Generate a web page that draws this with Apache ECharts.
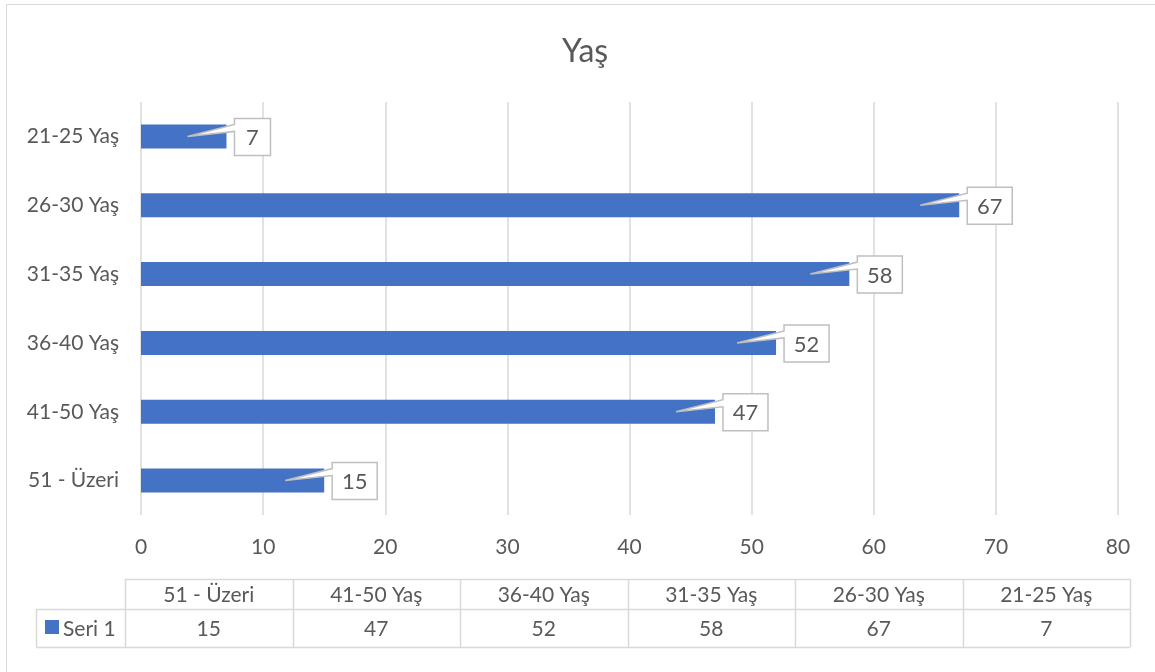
<!DOCTYPE html>
<html><head><meta charset="utf-8">
<script src="https://cdn.jsdelivr.net/npm/echarts@6/dist/echarts.min.js"></script>
<style>html,body{margin:0;padding:0;background:#fff}#c{width:1155px;height:672px}</style>
</head><body><div id="c"></div>
<script>
var titleText = 'Yaş';
var seriesName = 'Seri 1';
var categories = ['51 - Üzeri', '41-50 Yaş', '36-40 Yaş', '31-35 Yaş', '26-30 Yaş', '21-25 Yaş'];
var values = [15, 47, 52, 58, 67, 7];
var xTicks = [0, 10, 20, 30, 40, 50, 60, 70, 80];

var FONT = 'Lato';
var TXT = '#595959';
var BAR = '#4472C4';
var LINE = '#d9d9d9';
var FS = 21;

var chart = echarts.init(document.getElementById('c'));

var tbl = [];
var tLeft = 36, c0 = 125, colW = (1130 - 125) / categories.length;
var r0 = 579, r1 = 609, r2 = 647;
tbl.push({type:'rect', shape:{x:6.5,y:4.5,width:1200,height:720}, style:{fill:'none',stroke:LINE,lineWidth:1}, silent:true, z:0});
tbl.push({type:'line', shape:{x1:c0,y1:r0+0.5,x2:1130,y2:r0+0.5}, style:{stroke:LINE,lineWidth:1.5}});
tbl.push({type:'line', shape:{x1:tLeft,y1:r1+0.5,x2:1130,y2:r1+0.5}, style:{stroke:LINE,lineWidth:1.5}});
tbl.push({type:'line', shape:{x1:tLeft,y1:r2+0.5,x2:1130,y2:r2+0.5}, style:{stroke:LINE,lineWidth:1.5}});
tbl.push({type:'line', shape:{x1:tLeft+0.5,y1:r1,x2:tLeft+0.5,y2:r2}, style:{stroke:LINE,lineWidth:1.5}});
for (var i = 0; i <= categories.length; i++) {
  var x = Math.round(c0 + i * colW) + 0.5;
  tbl.push({type:'line', shape:{x1:x,y1:r0,x2:x,y2:r2}, style:{stroke:LINE,lineWidth:1.5}});
}
for (var i = 0; i < categories.length; i++) {
  var cx = c0 + (i + 0.5) * colW;
  tbl.push({type:'text', x:cx, y:(r0+r1)/2+1, style:{text:categories[i], font:FS+'px '+FONT, fill:TXT, align:'center', verticalAlign:'middle'}});
  tbl.push({type:'text', x:cx, y:(r1+r2)/2+1, style:{text:String(values[i]), font:FS+'px '+FONT, fill:TXT, align:'center', verticalAlign:'middle'}});
}
tbl.push({type:'rect', shape:{x:45,y:620,width:14,height:14}, style:{fill:BAR}});
tbl.push({type:'text', x:63, y:(r1+r2)/2+1, style:{text:seriesName, font:FS+'px '+FONT, fill:TXT, align:'left', verticalAlign:'middle'}});

chart.setOption({
  animation:false,
  backgroundColor:'#fff',
  title:{text:titleText, textStyle:{fontFamily:FONT, fontSize:32, fontWeight:'normal', color:TXT}, left:557, top:31},
  grid:{left:141, right:37, top:102, bottom:157, containLabel:false},
  xAxis:{type:'value', min:xTicks[0], max:xTicks[xTicks.length-1], interval:10,
    axisLine:{show:false}, axisTick:{show:false},
    splitLine:{lineStyle:{color:LINE, width:1.5}},
    axisLabel:{fontFamily:FONT, fontSize:FS, color:TXT, margin:22}},
  yAxis:{type:'category', data:categories,
    axisLine:{show:false}, axisTick:{show:false},
    axisLabel:{fontFamily:FONT, fontSize:FS, color:TXT, margin:22}},
  series:[
    {type:'bar', name:seriesName, data:values, barWidth:24, itemStyle:{color:BAR}, z:2},
    {type:'custom', name:seriesName+'-labels', data:values.map(function(v,i){return [v,i];}), z:5,
     encode:{x:0,y:1},
     renderItem:function(params, api){
       var v = api.value(0), idx = api.value(1);
       var p = api.coord([v, idx]);
       var txt = String(v);
       var w = txt.length > 1 ? 45 : 36, h = 37;
       var bl = p[0] + 8, bt = p[1] - 18, br = bl + w, bb = bt + h;
       var tip = [p[0] - 39, p[1]];
       return {type:'group', children:[
         {type:'polygon', shape:{points:[[bl,bt],[br,bt],[br,bb],[bl,bb],[bl,bt+13],tip,[bl,bt+6]]},
          style:{fill:'#fff', stroke:'#bfbfbf', lineWidth:1.5}},
         {type:'text', x:(bl+br)/2, y:(bt+bb)/2+1, style:{text:txt, font:'22px '+FONT, fill:TXT, align:'center', verticalAlign:'middle'}}
       ]};
     }}
  ],
  graphic:tbl
});
</script></body></html>
